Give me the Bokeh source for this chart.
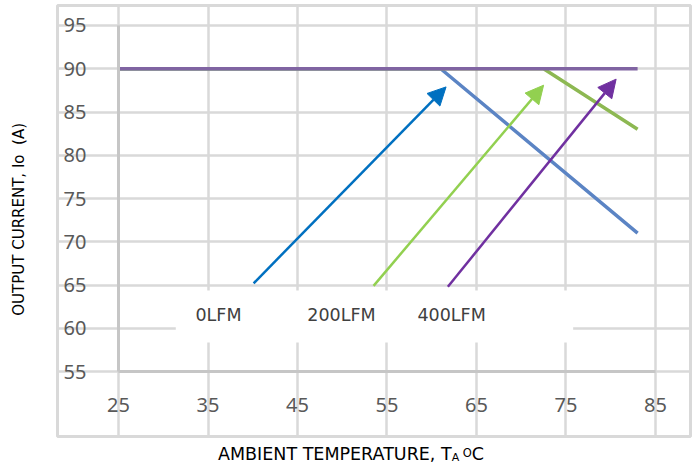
from bokeh.plotting import figure
from bokeh.layouts import column, row
from bokeh.models import (Range1d, FixedTicker, Arrow, NormalHead, Div)
from bokeh.core.properties import value
from bokeh.embed import file_html
from bokeh.resources import INLINE

# ---- data ----
x_ticks = [25, 35, 45, 55, 65, 75, 85]
y_ticks = [55, 60, 65, 70, 75, 80, 85, 90, 95]

lfm0_x = [25, 61, 83]
lfm0_y = [90, 90, 71]
lfm200_x = [25, 72.5, 83]
lfm200_y = [90, 90, 83]
lfm400_x = [25, 83]
lfm400_y = [90, 90]

arrow_names = ["0LFM", "200LFM", "400LFM"]
arrow_x0 = [40.1, 53.5, 61.8]
arrow_y0 = [65.2, 64.9, 64.8]
arrow_x1 = [61.6, 72.5, 80.6]
arrow_y1 = [87.9, 88.1, 88.8]
arrow_colors = ["#0070c0", "#92d050", "#7030a0"]

label_x = [33.6, 46.1, 58.4]
label_y = [61.5, 61.5, 61.5]

label_box = dict(left=31.4, right=75.8, bottom=58.35, top=64.35)

FONT = "DejaVu Sans"

# frame doubles as the light grey chart border; data area is 25..85 x 55..95
p = figure(width=644, height=440, output_backend="svg", toolbar_location=None,
           x_range=Range1d(18.184, 88.911), y_range=Range1d(47.486, 97.312),
           min_border_left=2, min_border_right=9, min_border_top=5,
           min_border_bottom=4)
p.outline_line_color = "#d9d9d9"
p.outline_line_width = 3
p.background_fill_color = "white"
p.border_fill_color = "white"

p.xaxis.fixed_location = 55
p.yaxis.fixed_location = 25
p.xaxis.bounds = (x_ticks[0], x_ticks[-1])
p.yaxis.bounds = (y_ticks[0], y_ticks[-1])
for ax, ticks in ((p.xaxis[0], x_ticks), (p.yaxis[0], y_ticks)):
    ax.ticker = FixedTicker(ticks=ticks)
    ax.major_tick_line_color = None
    ax.minor_tick_line_color = None
    ax.axis_line_color = "#c6c6c6"
    ax.axis_line_width = 3
    ax.major_label_text_font = "Noto Sans"
    ax.major_label_text_font_size = "20px"
    ax.major_label_text_color = "#595959"
p.xaxis.major_label_standoff = 20
p.yaxis.major_label_standoff = 26

p.xgrid.ticker = FixedTicker(ticks=x_ticks)
p.ygrid.ticker = FixedTicker(ticks=y_ticks)
p.xgrid.bounds = (y_ticks[0], y_ticks[-1])
p.ygrid.bounds = (x_ticks[0], x_ticks[-1])
for g in (p.xgrid[0], p.ygrid[0]):
    g.grid_line_color = "#d9d9d9"
    g.grid_line_width = 2.5

# white box behind labels (hides gridlines)
p.quad(left=[label_box["left"]], right=[label_box["right"]],
       bottom=[label_box["bottom"]], top=[label_box["top"]],
       fill_color="white", line_color=None)

# series
p.line(lfm0_x, lfm0_y, line_color="#5b84c4", line_width=3.5)
p.line(lfm200_x, lfm200_y, line_color="#8db852", line_width=3.5)
p.line(lfm400_x, lfm400_y, line_color="#8064a2", line_width=3.5)

for i in range(3):
    c = arrow_colors[i]
    p.add_layout(Arrow(end=NormalHead(size=18, fill_color=c, line_color=c),
                       x_start=arrow_x0[i], y_start=arrow_y0[i],
                       x_end=arrow_x1[i], y_end=arrow_y1[i],
                       line_color=c, line_width=2.5))

p.text(x=label_x, y=label_y, text=arrow_names, text_font=value(FONT),
       text_font_size="17.5px", text_color="#404040", text_align="left",
       text_baseline="middle")

# y axis title (rotated)
y_title_html = (
    '<div style="width:55px;height:438px;display:flex;align-items:center;'
    'justify-content:flex-start">'
    '<div style="margin-left:11px;writing-mode:vertical-rl;transform:rotate(180deg);'
    'font-family:\'DejaVu Sans\';font-size:15px;line-height:16px;color:black;'
    'white-space:nowrap">OUTPUT CURRENT, Io&nbsp;&nbsp;(A)</div></div>'
)
ydiv = Div(text=y_title_html, width=55, height=440, margin=0)

# x axis title with subscript / superscript
x_title_html = (
    '<div style="margin-left:218px;margin-top:6px;font-family:\'DejaVu Sans\';'
    'font-size:17.5px;line-height:17px;color:black;white-space:nowrap">'
    'AMBIENT TEMPERATURE, T'
    '<span style="font-size:11px;position:relative;top:1px">A</span>'
    '<span style="font-size:11px"> </span>'
    '<span style="font-size:11.5px;position:relative;top:-3px">O</span>C</div>'
)
xdiv = Div(text=x_title_html, width=699, height=28, margin=0)

layout = column(row(ydiv, p, spacing=0), xdiv, spacing=0)
open("out.html", "w").write(file_html(layout, INLINE))
